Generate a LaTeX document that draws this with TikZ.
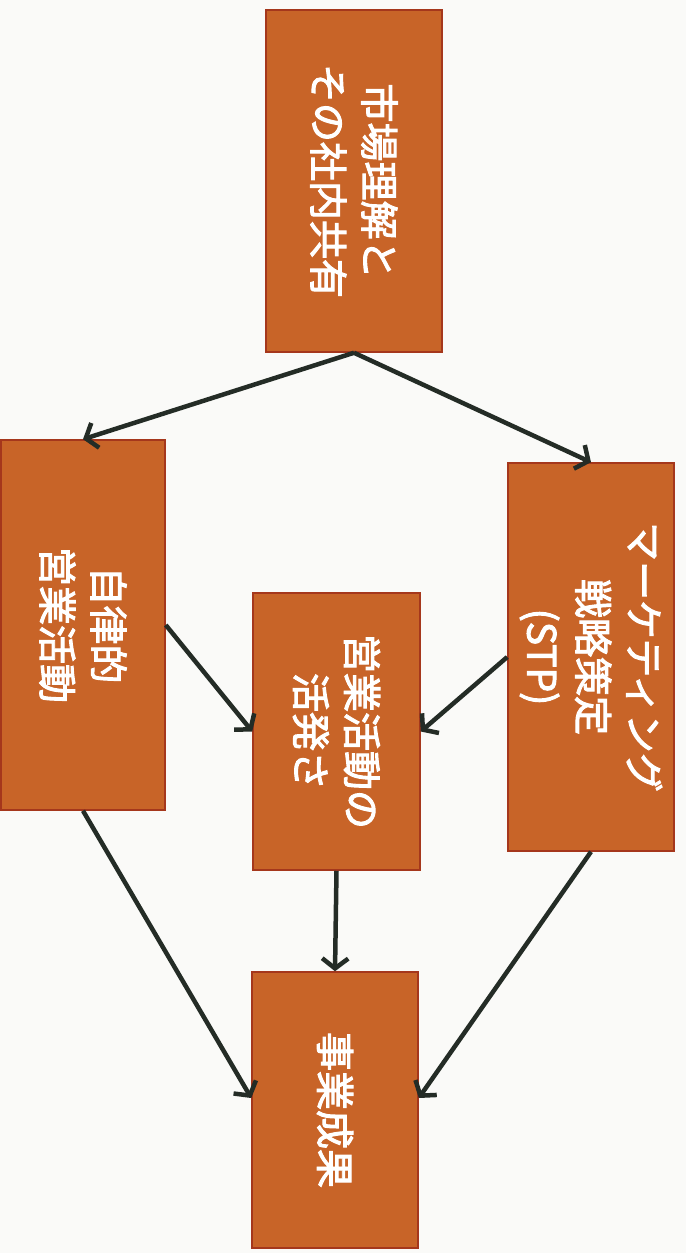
\documentclass[tikz,border=0pt]{standalone}
\usepackage{fontspec}
\newfontfamily\cjk[UprightFeatures={FakeBold=2.5}]{Noto Sans CJK JP}
\usetikzlibrary{arrows.meta}
\definecolor{boxfill}{RGB}{200,100,40}
\definecolor{boxedge}{RGB}{165,55,28}
\definecolor{arrowc}{RGB}{36,44,38}
\definecolor{paper}{RGB}{250,250,248}
\tikzset{
  box/.style={draw=boxedge, line width=1.5pt, fill=boxfill, inner sep=0pt},
  boxtext/.style={rotate=-90, text=white, align=center,
    font=\cjk\fontsize{39}{51}\selectfont},
  conn/.style={draw=arrowc, line width=4.5pt,
    -{Straight Barb[length=10pt,width=26pt,line width=4.5pt]}}
}
\begin{document}
\begin{tikzpicture}[x=1pt,y=-1pt]
\fill[paper] (0,0) rectangle (686,1253);
\useasboundingbox (0,0) rectangle (686,1253);

\node[box, minimum width=176pt, minimum height=342pt,
  label={[boxtext]center:市場理解と\\その社内共有}] (top) at (354,181) {};
\node[box, minimum width=164pt, minimum height=370pt,
  label={[boxtext]center:自律的\\営業活動}] (left) at (83,625) {};
\node[box, minimum width=166pt, minimum height=388pt,
  label={[boxtext]center:マーケティング\\戦略策定\\(STP)}] (right) at (591,657) {};
\node[box, minimum width=167pt, minimum height=277pt,
  label={[boxtext]center:営業活動の\\活発さ}] (mid) at (336.5,731.5) {};
\node[box, minimum width=166pt, minimum height=276pt,
  label={[boxtext]center:事業成果}] (bot) at (335,1110) {};

\draw[conn] (top.south) -- (left.north);
\draw[conn] (top.south) -- (right.north);
\draw[conn] (left.east) -- (mid.west);
\draw[conn] (right.west) -- (mid.east);
\draw[conn] (mid.south) -- (bot.north);
\draw[conn] (left.south) -- ([yshift=12pt]bot.west);
\draw[conn] (right.south) -- ([yshift=12pt]bot.east);
\end{tikzpicture}
\end{document}
